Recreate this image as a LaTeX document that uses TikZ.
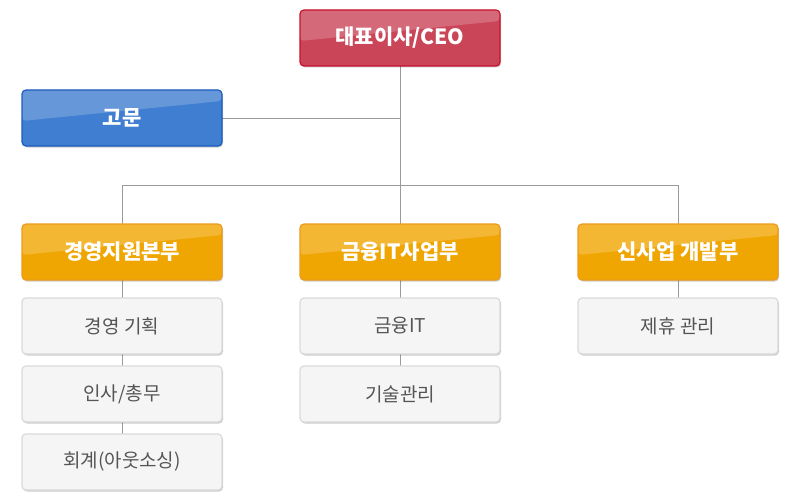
\documentclass[tikz,border=0pt]{standalone}
\usepackage{fontspec}
\setmainfont{Noto Sans CJK KR}
\usetikzlibrary{shadows}
\definecolor{ceofill}{HTML}{CA4558}
\definecolor{ceoedge}{HTML}{C8102E}
\definecolor{advfill}{HTML}{3F7ED0}
\definecolor{advedge}{HTML}{1E5CBE}
\definecolor{orgfill}{HTML}{F0A602}
\definecolor{orgedge}{HTML}{EE9A1C}
\definecolor{subfill}{HTML}{F5F5F5}
\definecolor{subedge}{HTML}{DADADA}
\definecolor{subtext}{HTML}{555555}
\definecolor{linkc}{HTML}{9A9A9A}
\tikzset{
  boxbase/.style={rounded corners=4pt, minimum width=200pt, minimum height=56pt, line width=1.2pt, inner sep=0pt,
    drop shadow={shadow xshift=1pt, shadow yshift=-1.5pt, opacity=0.2, fill=black}},
  gloss/.style={path picture={\fill[white,opacity=0.2] (path picture bounding box.north west) -- (path picture bounding box.north east) -- ([yshift=-11pt]path picture bounding box.north east) -- ([yshift=-31pt]path picture bounding box.north west) -- cycle;}},
  headtext/.style={text=white, font=\fontsize{21}{24}\selectfont\bfseries},
  ceobox/.style={boxbase, gloss, fill=ceofill, draw=ceoedge, headtext},
  advbox/.style={boxbase, gloss, fill=advfill, draw=advedge, headtext},
  deptbox/.style={boxbase, gloss, fill=orgfill, draw=orgedge, headtext},
  subbox/.style={boxbase, fill=subfill, draw=subedge, text=subtext, font=\fontsize{19}{22}\selectfont},
  link/.style={draw=linkc, line width=0.8pt}
}
\begin{document}
\begin{tikzpicture}[x=1pt,y=-1pt]
\useasboundingbox (0,0) rectangle (800,500);
% connectors first
\coordinate (jadv) at (400,118);
\coordinate (jbus) at (400,185);
\coordinate (bl) at (122,185);
\coordinate (br) at (678,185);
\coordinate (c1end) at (122,434);
\coordinate (c2end) at (400,366);
\coordinate (c3end) at (678,298);
\draw[link] (400,38) -- (jbus);
\draw[link] (222,118) -- (jadv);
\draw[link] (bl) -- (br);
\draw[link] (bl) -- (122,252);
\draw[link] (br) -- (678,252);
\draw[link] (jbus) -- (400,252);
\draw[link] (122,252) -- (c1end);
\draw[link] (400,252) -- (c2end);
\draw[link] (678,252) -- (c3end);
% nodes
\node[ceobox] (ceo) at (400,38) {대표이사/CEO};
\node[advbox] (adv) at (122,118) {고문};
\node[deptbox] (d1) at (122,252) {경영지원본부};
\node[deptbox] (d2) at (400,252) {금융IT사업부};
\node[deptbox] (d3) at (678,252) {신사업 개발부};
\node[subbox] (s11) at (122,326) {경영 기획};
\node[subbox] (s12) at (122,394) {인사/총무};
\node[subbox] (s13) at (122,462) {회계(아웃소싱)};
\node[subbox] (s21) at (400,326) {금융IT};
\node[subbox] (s22) at (400,394) {기술관리};
\node[subbox] (s31) at (678,326) {제휴 관리};
\end{tikzpicture}
\end{document}
